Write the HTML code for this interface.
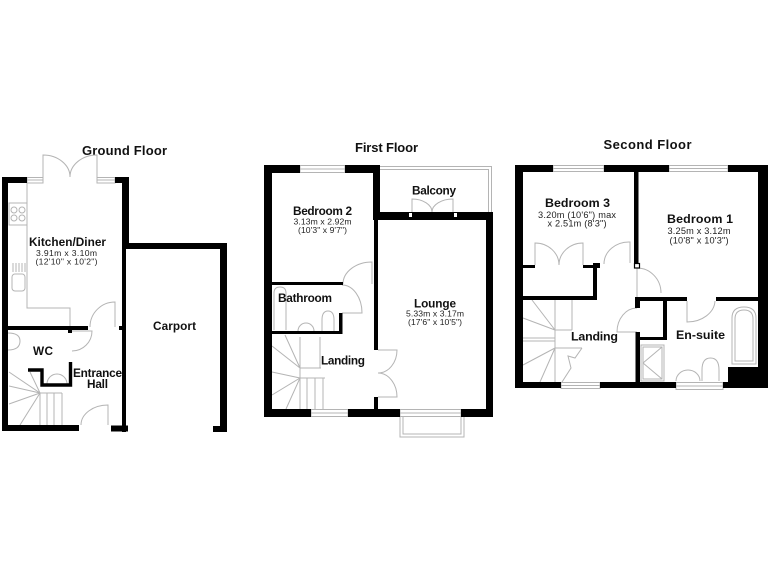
<!DOCTYPE html>
<html><head><meta charset="utf-8">
<style>
html,body{margin:0;padding:0;background:#fff;}
svg{display:block;}
text{font-family:"Liberation Sans",Arial,sans-serif;fill:#111;}
.t{font-weight:bold;font-size:13px;}
.r{font-weight:bold;font-size:11.8px;}
.r2{font-weight:bold;font-size:12.4px;}
.d{font-size:8.6px;fill:#222;}
.d2{font-size:9.2px;fill:#222;}
.l{fill:none;stroke:#b4b4b4;stroke-width:1;}
.w{fill:#fff;stroke:#b4b4b4;stroke-width:1;}
</style></head><body>
<svg width="768" height="576" viewBox="0 0 768 576" xmlns="http://www.w3.org/2000/svg">
<rect width="768" height="576" fill="#fff"/>

<!-- ================= GROUND FLOOR ================= -->
<text class="t" x="124.5" y="155" text-anchor="middle" textLength="85">Ground Floor</text>
<path class="l" d="M27,183 V308 H70 V327"/>
<rect class="l" x="9" y="203" width="18" height="22"/>
<circle class="l" cx="14" cy="210" r="3"/><circle class="l" cx="22" cy="210" r="3"/>
<circle class="l" cx="14" cy="218" r="3"/><circle class="l" cx="22" cy="218" r="3"/>
<path class="l" d="M13,263 V272 M16,263 V272 M19,263 V272 M22,263 V272 M25,263 V272"/>
<rect class="l" x="12" y="274" width="13" height="17" rx="3"/>
<path class="l" d="M43,177 V155 A27 22 0 0 1 70,177 M97,177 V155 A27 22 0 0 0 70,177"/>
<path class="l" d="M115,327 V302 A25 25 0 0 0 90,327"/>
<path class="l" d="M72,331 H92 A20 20 0 0 1 72,351"/>
<path class="l" d="M8,333 Q20,333 20,341 Q20,350 8,350"/>
<path class="l" d="M47,384 A10 10 0 0 1 67,384"/>
<path class="l" d="M40,393 V425 M47,393 V425 M54,393 V425 M62,393 V425 M40,393 H62 M40,393 L9,372 M40,393 L9,386 M40,393 L9,404 M40,393 L20,425 M40,393 L30,372"/>
<path class="l" d="M108,425 V405 A27 20 0 0 0 81,425"/>
<rect class="w" x="27" y="177.5" width="16" height="5.5"/><line class="l" x1="27" y1="180" x2="43" y2="180"/>
<rect class="w" x="97" y="177.5" width="18" height="5.5"/><line class="l" x1="97" y1="180" x2="115" y2="180"/>
<g fill="#000">
<rect x="2" y="177" width="6" height="254"/>
<rect x="2" y="177" width="25" height="6"/>
<rect x="115" y="177" width="14" height="6"/>
<rect x="122" y="177" width="7" height="72"/>
<rect x="122" y="243" width="105" height="6"/>
<rect x="220" y="243" width="7" height="189"/>
<rect x="213" y="426" width="14" height="6"/>
<rect x="122" y="249" width="4" height="183"/>
<rect x="2" y="425" width="77" height="6"/>
<rect x="111" y="425.5" width="17" height="6"/>
<rect x="8" y="326" width="80" height="4"/>
<rect x="119" y="326" width="3" height="4"/>
<rect x="68" y="330" width="4" height="3"/>
</g>
<path d="M28,370 H42 V385 H70.5 V362" fill="none" stroke="#000" stroke-width="3.4"/>
<text class="r" x="67.5" y="246" text-anchor="middle" textLength="77">Kitchen/Diner</text>
<text class="d" x="66.5" y="256" text-anchor="middle" textLength="61">3.91m x 3.10m</text>
<text class="d" x="66.5" y="264.5" text-anchor="middle" textLength="62">(12'10" x 10'2")</text>
<text class="r" x="43" y="355" text-anchor="middle" textLength="20">WC</text>
<text class="r" x="97.5" y="377" text-anchor="middle" textLength="49">Entrance</text>
<text class="r" x="97.5" y="388" text-anchor="middle" textLength="21">Hall</text>
<text class="r" x="174.5" y="330" text-anchor="middle" textLength="43">Carport</text>

<!-- ================= FIRST FLOOR ================= -->
<text class="t" x="386.5" y="152" text-anchor="middle" textLength="63">First Floor</text>
<path class="l" d="M380,166.5 H491.5 V212 M380,169.5 H488.5 V212"/>
<path class="l" d="M412,212 V199 A20 13 0 0 1 432,212 M453,212 V199 A21 13 0 0 0 432,212"/>
<path class="l" d="M400,417 V437 H464 V417 M403,417 V434 H461 V417"/>
<path class="l" d="M372,284 V262 A29 22 0 0 0 343,284"/>
<path class="l" d="M342,285 A20 28 0 0 1 362,313 H342"/>
<path class="l" d="M378,350 H397 A19 23 0 0 1 378,373 M378,397 H397 A19 24 0 0 0 378,373"/>
<path class="l" d="M274,330 V293 Q274,287 280,287 Q286,287 286,293 V330"/>
<path class="l" d="M298,331 A8 8 0 0 1 314,331"/>
<path class="l" d="M322,331 V320 M334,331 V320 M322,320 Q322,311 328,311 Q334,311 334,320"/>
<path class="l" d="M300,337 V409 M307,378 V409 M315,378 V409 M323,378 V409 M300,378 H325 M300,368 H321 M320,337 V368 M300,368 L272,346 M300,368 L285,335 M300,378 L272,372 M300,378 L272,395 M300,378 L286,409"/>
<rect class="w" x="300" y="165.5" width="45" height="7"/><line class="l" x1="300" y1="169" x2="345" y2="169"/>
<rect class="w" x="311" y="409.5" width="37" height="7"/><line class="l" x1="311" y1="413" x2="348" y2="413"/>
<rect class="w" x="400" y="409.5" width="61" height="7"/><line class="l" x1="400" y1="413" x2="461" y2="413"/>
<g fill="#000">
<rect x="264" y="165" width="8" height="252"/>
<rect x="264" y="165" width="36" height="8"/>
<rect x="345" y="165" width="35" height="8"/>
<rect x="373" y="165" width="7" height="55"/>
<rect x="373" y="212" width="120" height="8"/>
<rect x="486" y="212" width="7" height="205"/>
<rect x="374" y="220" width="4" height="130"/>
<rect x="374" y="397" width="4" height="20"/>
<rect x="264" y="409" width="47" height="8"/>
<rect x="348" y="409" width="52" height="8"/>
<rect x="461" y="409" width="32" height="8"/>
<rect x="272" y="282" width="71" height="3"/>
<rect x="339" y="313" width="3.5" height="21"/>
<rect x="272" y="331" width="70.5" height="3"/>
</g>
<rect x="409" y="213" width="3" height="4" fill="#fff"/>
<rect x="454" y="213" width="3" height="4" fill="#fff"/>
<text class="r" x="322.5" y="215" text-anchor="middle" textLength="59">Bedroom 2</text>
<text class="d" x="322.5" y="224.5" text-anchor="middle" textLength="58">3.13m x 2.92m</text>
<text class="d" x="322.5" y="233" text-anchor="middle" textLength="49">(10'3" x 9'7")</text>
<text class="r" x="434" y="194.5" text-anchor="middle" textLength="44">Balcony</text>
<text class="r" x="305" y="302" text-anchor="middle" textLength="54">Bathroom</text>
<text class="r" x="435" y="307.5" text-anchor="middle" textLength="42">Lounge</text>
<text class="d" x="435" y="316.5" text-anchor="middle" textLength="58">5.33m x 3.17m</text>
<text class="d" x="435" y="325" text-anchor="middle" textLength="54">(17'6" x 10'5")</text>
<text class="r" x="343" y="364.5" text-anchor="middle" textLength="44">Landing</text>

<!-- ================= SECOND FLOOR ================= -->
<text class="t" x="647.5" y="149" text-anchor="middle" textLength="88">Second Floor</text>
<path class="l" d="M535,265 V243 A24 22 0 0 1 559,265 M583,265 V243 A24 22 0 0 0 559,265"/>
<path class="l" d="M630,263 V242 A25 22 0 0 0 604,264"/>
<path class="l" d="M637,297 V268 A24 25 0 0 1 661,293"/>
<path class="l" d="M637,332 H617 A20 24 0 0 1 637,308"/>
<path class="l" d="M687,301 V322 A28 22 0 0 0 715,301"/>
<path class="l" d="M732,364 V318 Q732,307 744,307 Q756,307 756,318 V364 Z"/>
<path class="l" d="M735,361 V319 Q735,310 744,310 Q753,310 753,319 V361 Z"/>
<rect class="l" x="641" y="345" width="23" height="36"/>
<rect class="l" x="643" y="347" width="19" height="32"/>
<path class="l" d="M643,363 L662,347 M643,363 L662,379"/>
<path class="l" d="M676,381 A12 11 0 0 1 700,381"/>
<path class="l" d="M702,381 V370 M719,381 V370 M702,370 Q702,358 710.5,358 Q719,358 719,370"/>
<path class="l" d="M555,300 V382 M572,300 V330 M555,330 H572 M555,348 H582 M523,338 H555 M523,341 H555 M555,330 L523,318 M555,330 L532,300 M555,348 L523,365 M555,348 L540,382 M582,348 L575,358 L568,356 L571,368 L562,382"/>
<rect class="w" x="553" y="165.5" width="51" height="6"/><line class="l" x1="553" y1="168.5" x2="604" y2="168.5"/>
<rect class="w" x="669" y="165.5" width="59" height="6"/><line class="l" x1="669" y1="168.5" x2="728" y2="168.5"/>
<rect class="w" x="561" y="382.5" width="39" height="6"/><line class="l" x1="561" y1="385.5" x2="600" y2="385.5"/>
<rect class="w" x="676" y="382.5" width="47" height="7"/><line class="l" x1="676" y1="386" x2="723" y2="386"/>
<g fill="#000">
<rect x="515" y="165" width="8" height="223"/>
<rect x="515" y="165" width="38" height="7"/>
<rect x="604" y="165" width="65" height="7"/>
<rect x="728" y="165" width="40" height="7"/>
<rect x="758" y="165" width="10" height="223"/>
<rect x="728" y="367" width="40" height="21"/>
<rect x="515" y="382" width="46" height="6"/>
<rect x="600" y="382" width="76" height="6"/>
<rect x="723" y="382" width="45" height="6"/>
<rect x="634" y="172" width="4.5" height="91"/>
<rect x="523" y="265" width="12" height="3"/>
<rect x="583" y="265" width="14" height="3"/>
<rect x="593" y="263" width="7" height="5"/>
<rect x="593" y="263" width="4" height="37"/>
<rect x="523" y="296" width="74" height="4"/>
<rect x="635" y="297" width="52" height="4"/>
<rect x="716" y="297" width="42" height="4"/>
<rect x="635" y="297" width="5" height="11"/>
<rect x="635.5" y="332" width="4.5" height="56"/>
<rect x="663" y="297" width="4" height="43"/>
<rect x="636" y="337" width="31" height="3"/>
</g>
<rect x="634.5" y="263.5" width="5" height="4.5" fill="#fff" stroke="#000" stroke-width="1.2"/>
<text class="r2" x="577.5" y="207" text-anchor="middle" textLength="65">Bedroom 3</text>
<text class="d2" x="577" y="218" text-anchor="middle" textLength="78">3.20m (10'6") max</text>
<text class="d2" x="577" y="226.5" text-anchor="middle" textLength="59">x 2.51m (8'3")</text>
<text class="r2" x="700" y="223" text-anchor="middle" textLength="66">Bedroom 1</text>
<text class="d2" x="699" y="234" text-anchor="middle" textLength="63">3.25m x 3.12m</text>
<text class="d2" x="699" y="243.5" text-anchor="middle" textLength="59">(10'8" x 10'3")</text>
<text class="r2" x="594.5" y="340.5" text-anchor="middle" textLength="47">Landing</text>
<text class="r2" x="700.5" y="339" text-anchor="middle" textLength="49">En-suite</text>
</svg>
</body></html>
